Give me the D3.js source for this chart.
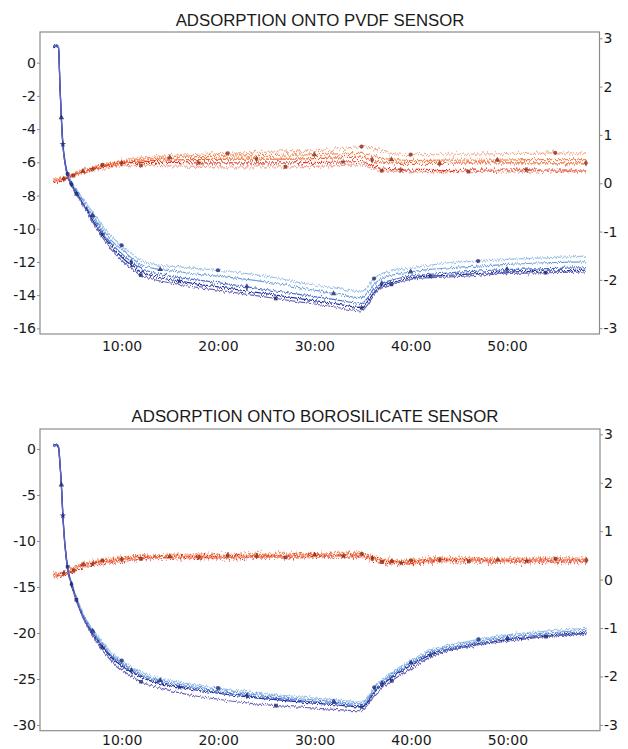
<!DOCTYPE html>
<html><head><meta charset="utf-8">
<script src="https://cdn.jsdelivr.net/npm/d3@7"></script>
<style>
html,body{margin:0;padding:0;background:#fff;}
svg{display:block;}
</style></head>
<body>
<svg id="chart" width="628" height="749"></svg>
<script>
// ---------- DATA ----------
// time in minutes
const timesF = [2.9, 3.2, 3.45, 3.6, 3.75, 3.9, 4.1, 4.4, 4.8, 5.3, 6, 7, 8, 9, 10, 11, 12, 13, 14, 16, 18, 20, 23, 26, 29, 32, 34.9, 35.5, 36.2, 37, 38, 39, 40, 42, 44, 47, 50, 54, 58.2];
const timesD = [2.9, 4, 5, 6, 7, 8, 10, 12, 15, 18, 21, 24, 27, 30, 33, 34.9, 36, 37, 38, 39, 40, 43, 46, 49, 52, 55, 58.2];

const xTicks = [10, 20, 30, 40, 50];
const xTickLabels = ["10:00", "20:00", "30:00", "40:00", "50:00"];

const titles = ["ADSORPTION ONTO PVDF SENSOR", "ADSORPTION ONTO BOROSILICATE SENSOR"];

// PVDF – frequency shift (left axis)
const pvdfF1 = [1.0, 1.05, 0.95, -1.2, -3.2, -4.7, -5.8, -6.7, -7.2, -7.6, -8.2, -9.0, -9.8, -10.5, -11.0, -11.5, -11.9, -12.1, -12.2, -12.3, -12.4, -12.5, -12.7, -12.95, -13.3, -13.55, -13.8, -13.5, -13.0, -12.7, -12.55, -12.45, -12.35, -12.2, -12.05, -11.95, -11.85, -11.75, -11.65];
const pvdfF2 = [1.0, 1.03, 0.93, -1.3, -3.3, -4.8, -5.85, -6.75, -7.25, -7.7, -8.3, -9.2, -10.0, -10.75, -11.25, -11.75, -12.15, -12.35, -12.45, -12.6, -12.75, -12.85, -13.05, -13.3, -13.6, -13.9, -14.15, -13.85, -13.35, -13.0, -12.8, -12.7, -12.6, -12.45, -12.35, -12.25, -12.15, -12.05, -12.0];
const pvdfF3 = [0.98, 1.02, 0.92, -1.35, -3.35, -4.85, -5.9, -6.8, -7.3, -7.8, -8.45, -9.35, -10.2, -10.95, -11.5, -12.0, -12.4, -12.6, -12.75, -12.95, -13.1, -13.25, -13.5, -13.75, -14.0, -14.25, -14.5, -14.2, -13.65, -13.3, -13.1, -12.95, -12.85, -12.75, -12.65, -12.55, -12.45, -12.4, -12.35];
const pvdfF4 = [0.97, 1.0, 0.9, -1.4, -3.4, -4.9, -5.95, -6.85, -7.35, -7.85, -8.5, -9.5, -10.35, -11.1, -11.7, -12.2, -12.6, -12.8, -12.95, -13.15, -13.35, -13.5, -13.75, -14.0, -14.25, -14.5, -14.75, -14.4, -13.85, -13.45, -13.25, -13.1, -12.95, -12.85, -12.8, -12.7, -12.6, -12.55, -12.5];
const pvdfF5 = [0.96, 1.0, 0.9, -1.45, -3.45, -4.95, -6.0, -6.9, -7.4, -7.9, -8.6, -9.6, -10.5, -11.3, -11.9, -12.4, -12.8, -13.0, -13.15, -13.35, -13.55, -13.7, -13.95, -14.2, -14.45, -14.7, -14.95, -14.6, -14.0, -13.55, -13.35, -13.2, -13.05, -12.95, -12.9, -12.8, -12.7, -12.65, -12.6];

// PVDF – dissipation (right axis)
const pvdfD1 = [0.08, 0.12, 0.2, 0.27, 0.33, 0.38, 0.46, 0.52, 0.57, 0.6, 0.62, 0.64, 0.65, 0.67, 0.72, 0.76, 0.72, 0.67, 0.62, 0.6, 0.59, 0.6, 0.6, 0.61, 0.62, 0.63, 0.63];
const pvdfD2 = [0.06, 0.1, 0.18, 0.25, 0.31, 0.36, 0.44, 0.49, 0.53, 0.55, 0.56, 0.57, 0.58, 0.59, 0.61, 0.62, 0.57, 0.52, 0.49, 0.48, 0.47, 0.48, 0.48, 0.48, 0.49, 0.49, 0.49];
const pvdfD3 = [0.04, 0.09, 0.17, 0.24, 0.3, 0.35, 0.42, 0.46, 0.48, 0.49, 0.5, 0.5, 0.5, 0.51, 0.53, 0.54, 0.48, 0.44, 0.42, 0.41, 0.41, 0.41, 0.42, 0.42, 0.42, 0.42, 0.42];
const pvdfD4 = [0.03, 0.08, 0.16, 0.23, 0.29, 0.34, 0.41, 0.43, 0.43, 0.42, 0.42, 0.42, 0.42, 0.43, 0.44, 0.45, 0.36, 0.3, 0.28, 0.27, 0.27, 0.26, 0.27, 0.27, 0.27, 0.27, 0.27];
const pvdfD5 = [0.05, 0.09, 0.16, 0.22, 0.27, 0.31, 0.36, 0.37, 0.36, 0.35, 0.34, 0.34, 0.34, 0.35, 0.37, 0.38, 0.3, 0.26, 0.25, 0.24, 0.24, 0.24, 0.24, 0.25, 0.25, 0.25, 0.25];

// Borosilicate – frequency shift (left axis)
const boroF1 = [0.4, 0.5, 0.3, -1.5, -3.8, -7.0, -10.0, -12.8, -14.5, -16.0, -17.9, -19.6, -21.0, -22.2, -23.0, -23.7, -24.25, -24.65, -24.95, -25.35, -25.7, -26.0, -26.4, -26.7, -27.0, -27.25, -27.5, -27.0, -25.9, -25.1, -24.3, -23.6, -23.0, -21.85, -21.3, -20.7, -20.2, -19.8, -19.5];
const boroF2 = [0.38, 0.48, 0.28, -1.55, -3.9, -7.1, -10.1, -12.9, -14.6, -16.15, -18.05, -19.8, -21.2, -22.4, -23.2, -23.9, -24.45, -24.85, -25.15, -25.55, -25.9, -26.2, -26.6, -26.9, -27.2, -27.45, -27.7, -27.2, -26.1, -25.3, -24.5, -23.8, -23.2, -22.05, -21.5, -20.9, -20.4, -20.0, -19.7];
const boroF3 = [0.36, 0.46, 0.26, -1.6, -3.95, -7.2, -10.2, -13.0, -14.7, -16.3, -18.2, -20.0, -21.4, -22.6, -23.4, -24.1, -24.65, -25.05, -25.35, -25.75, -26.1, -26.4, -26.8, -27.1, -27.4, -27.65, -27.9, -27.4, -26.3, -25.5, -24.7, -24.0, -23.4, -22.25, -21.7, -21.1, -20.6, -20.2, -19.9];
const boroF4 = [0.35, 0.45, 0.25, -1.65, -4.0, -7.25, -10.3, -13.05, -14.8, -16.4, -18.35, -20.15, -21.55, -22.75, -23.55, -24.25, -24.8, -25.2, -25.5, -25.9, -26.25, -26.55, -26.95, -27.25, -27.55, -27.8, -28.05, -27.55, -26.45, -25.65, -24.85, -24.15, -23.55, -22.4, -21.85, -21.25, -20.75, -20.35, -20.05];
const boroF5 = [0.33, 0.43, 0.23, -1.7, -4.1, -7.3, -10.4, -13.0, -14.8, -16.4, -18.3, -20.3, -21.9, -23.1, -24.0, -24.7, -25.3, -25.7, -26.0, -26.5, -26.9, -27.2, -27.6, -27.9, -28.1, -28.3, -28.45, -27.9, -26.8, -26.0, -25.2, -24.5, -23.9, -22.6, -21.9, -21.3, -20.9, -20.4, -20.1];

// Borosilicate – dissipation (right axis)
const boroD1 = [0.1, 0.16, 0.25, 0.33, 0.37, 0.4, 0.45, 0.49, 0.5, 0.51, 0.5, 0.52, 0.52, 0.53, 0.54, 0.53, 0.47, 0.42, 0.4, 0.39, 0.4, 0.44, 0.44, 0.43, 0.43, 0.43, 0.43];
const boroD2 = [0.09, 0.14, 0.23, 0.31, 0.35, 0.38, 0.43, 0.47, 0.48, 0.49, 0.48, 0.5, 0.5, 0.51, 0.52, 0.51, 0.45, 0.4, 0.38, 0.37, 0.38, 0.42, 0.42, 0.41, 0.41, 0.41, 0.41];
const boroD3 = [0.08, 0.13, 0.22, 0.3, 0.34, 0.37, 0.42, 0.46, 0.47, 0.48, 0.47, 0.49, 0.49, 0.5, 0.51, 0.5, 0.44, 0.39, 0.37, 0.36, 0.37, 0.41, 0.41, 0.4, 0.4, 0.4, 0.4];
const boroD4 = [0.06, 0.11, 0.2, 0.28, 0.32, 0.35, 0.4, 0.44, 0.45, 0.46, 0.45, 0.47, 0.47, 0.48, 0.49, 0.48, 0.42, 0.37, 0.35, 0.34, 0.35, 0.39, 0.39, 0.38, 0.38, 0.38, 0.38];
const boroD5 = [0.05, 0.1, 0.19, 0.27, 0.31, 0.34, 0.39, 0.43, 0.44, 0.45, 0.44, 0.46, 0.46, 0.47, 0.48, 0.47, 0.41, 0.36, 0.34, 0.33, 0.34, 0.38, 0.38, 0.37, 0.37, 0.37, 0.37];

const leftTicksP1 = [0, -2, -4, -6, -8, -10, -12, -14, -16];
const leftTicksP2 = [0, -5, -10, -15, -20, -25, -30];
const rightTicks = [3, 2, 1, 0, -1, -2, -3];

// ---------- STYLE ----------
const blueColors = ["#9cc2e6", "#6f9fdc", "#4a70c8", "#23329a", "#6a64b8"];
const orangeColors = ["#f3a886", "#f3854e", "#f2622e", "#e5321f", "#f0a090"];
const blueMarker = "#1c2677";
const orangeMarker = "#8a2a18";
const symbols = [d3.symbolCircle, d3.symbolTriangle, d3.symbolDiamond, d3.symbolStar, d3.symbolSquare];

const svg = d3.select("#chart");
const defs = svg.append("defs");

function noiseFilter(id, freq, scale, seed) {
  const f = defs.append("filter").attr("id", id)
    .attr("filterUnits", "userSpaceOnUse")
    .attr("x", 0).attr("y", 0).attr("width", 628).attr("height", 749);
  f.append("feTurbulence").attr("type", "fractalNoise")
    .attr("baseFrequency", freq).attr("numOctaves", 3).attr("seed", seed).attr("result", "n");
  f.append("feColorMatrix").attr("in", "n").attr("type", "matrix")
    .attr("values", "0 0 0 0 0.5  0 1 0 0 0  0 0 0 0 0  0 0 0 0 1").attr("result", "m");
  f.append("feDisplacementMap").attr("in", "SourceGraphic").attr("in2", "m")
    .attr("scale", scale).attr("xChannelSelector", "R").attr("yChannelSelector", "G");
}

const panels = [
  {top: 32, bottom: 334, left: 40, right: 599.5, yL: [-16.34, 1.85], yR: [-3.12, 3.13],
   leftTicks: leftTicksP1, title: titles[0], titleX: 320, titleY: 26, xPad: 7,
   F: [pvdfF1, pvdfF2, pvdfF3, pvdfF4, pvdfF5], D: [pvdfD1, pvdfD2, pvdfD3, pvdfD4, pvdfD5],
   fScale: 5, dScale: 8},
  {top: 429, bottom: 730.7, left: 40, right: 600, yL: [-30.62, 2.17], yR: [-3.12, 3.11],
   leftTicks: leftTicksP2, title: titles[1], titleX: 315, titleY: 422, xPad: 4,
   F: [boroF1, boroF2, boroF3, boroF4, boroF5], D: [boroD1, boroD2, boroD3, boroD4, boroD5],
   fScale: 5, dScale: 12}
];

const tickFont = "'DejaVu Sans', Verdana, sans-serif";
const axisGray = "#8c8c8c";

panels.forEach((p, pi) => {
  const x = d3.scaleLinear().domain([1.53, 59.6]).range([p.left, p.right]);
  const yL = d3.scaleLinear().domain(p.yL).range([p.bottom, p.top]);
  const yR = d3.scaleLinear().domain(p.yR).range([p.bottom, p.top]);
  const g = svg.append("g");

  // per-series noise textures (rendering style only)
  for (let k = 0; k < 5; k++) {
    noiseFilter(`nF${pi}_${k}`, "0.75 0.05", p.fScale, 11 + k * 7 + pi * 50);
    noiseFilter(`nD${pi}_${k}`, "0.75 0.05", p.dScale, 3 + k * 13 + pi * 40);
  }

  // title
  g.append("text").attr("x", p.titleX).attr("y", p.titleY)
    .attr("text-anchor", "middle")
    .attr("font-family", "'Liberation Sans', Arial, sans-serif")
    .attr("font-size", 16.8).attr("fill", "#1a1a1a").text(p.title);

  const clipId = "clip" + pi;
  defs.append("clipPath").attr("id", clipId).append("rect")
    .attr("x", p.left).attr("y", p.top).attr("width", p.right - p.left).attr("height", p.bottom - p.top);

  const plot = g.append("g").attr("clip-path", `url(#${clipId})`);

  const lineF = d3.line().x((d, i) => x(timesF[i])).y(d => yL(d)).curve(d3.curveMonotoneX);
  const lineD = d3.line().x((d, i) => x(timesD[i])).y(d => yR(d)).curve(d3.curveMonotoneX);

  // dissipation (orange) lines
  p.D.forEach((s, si) => {
    plot.append("g").attr("filter", `url(#nD${pi}_${si})`)
      .append("path").datum(s).attr("d", lineD)
      .attr("fill", "none").attr("stroke", orangeColors[si]).attr("stroke-width", 1.2);
  });
  // frequency (blue) lines
  p.F.forEach((s, si) => {
    plot.append("g").attr("filter", `url(#nF${pi}_${si})`)
      .append("path").datum(s).attr("d", lineF)
      .attr("fill", "none").attr("stroke", blueColors[si]).attr("stroke-width", 1.2);
  });

  // markers
  p.D.forEach((s, si) => {
    s.forEach((v, i) => {
      if (i >= 1 && (i + si * 2) % 5 === 0) {
        plot.append("path")
          .attr("d", d3.symbol().type(symbols[si]).size(14))
          .attr("transform", `translate(${x(timesD[i])},${yR(v)})`)
          .attr("fill", orangeMarker).attr("opacity", 0.8);
      }
    });
  });
  p.F.forEach((s, si) => {
    s.forEach((v, i) => {
      if (i >= 3 && (i + si * 3) % 7 === 0) {
        plot.append("path")
          .attr("d", d3.symbol().type(symbols[si]).size(14))
          .attr("transform", `translate(${x(timesF[i])},${yL(v)})`)
          .attr("fill", blueMarker).attr("opacity", 0.8);
      }
    });
  });

  // frame
  g.append("rect").attr("x", p.left).attr("y", p.top)
    .attr("width", p.right - p.left).attr("height", p.bottom - p.top)
    .attr("fill", "none").attr("stroke", axisGray).attr("stroke-width", 1.2);

  // left axis
  const aL = g.append("g").attr("transform", `translate(${p.left},0)`)
    .call(d3.axisLeft(yL).tickValues(p.leftTicks).tickSize(3).tickPadding(1).tickFormat(d3.format("d")));
  // right axis
  const aR = g.append("g").attr("transform", `translate(${p.right},0)`)
    .call(d3.axisRight(yR).tickValues(rightTicks).tickSize(3).tickPadding(1).tickFormat(d3.format("d")));
  // bottom axis
  const aB = g.append("g").attr("transform", `translate(0,${p.bottom})`)
    .call(d3.axisBottom(x).tickValues(xTicks).tickSize(0).tickPadding(p.xPad)
      .tickFormat((d, i) => xTickLabels[i]));

  [aL, aR, aB].forEach(a => {
    a.select(".domain").remove();
    a.selectAll("line").attr("stroke", axisGray);
    a.selectAll("text").attr("font-family", tickFont).attr("font-size", 14).attr("fill", "#1a1a1a");
  });
  [aL, aR].forEach(a => a.selectAll("text").text(d => String(d)));
});
</script>
</body></html>
